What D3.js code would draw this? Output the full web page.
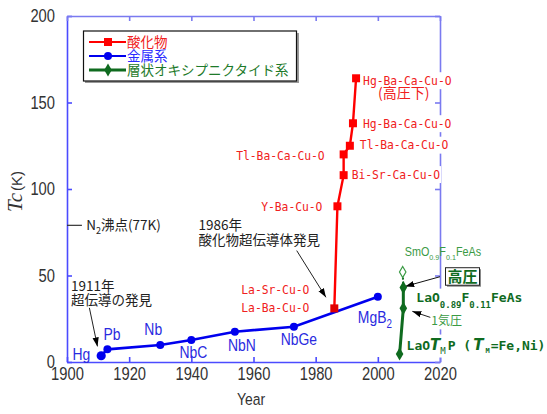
<!DOCTYPE html>
<html><head><meta charset="utf-8">
<script src="https://cdn.jsdelivr.net/npm/d3@7"></script>
<style>
body{margin:0;background:#fff;}
svg{display:block;}
</style></head>
<body><svg id="c" width="547" height="414"></svg>
<script>
// ---- data ----
const oxideNames = ["La-Ba-Cu-O","Y-Ba-Cu-O","Bi-Sr-Ca-Cu-O","Tl-Ba-Ca-Cu-O","Tl-Ba-Ca-Cu-O","Hg-Ba-Ca-Cu-O","Hg-Ba-Ca-Cu-O"];
const oxideYears = [1986, 1987, 1989, 1989, 1991, 1992, 1993];
const oxideTc    = [31, 90, 108, 120, 125, 138, 164];

const metalNames = ["Hg","Pb","Nb","NbC","NbN","NbGe","MgB2"];
const metalYears = [1911, 1913, 1930, 1940, 1954, 1973, 2000];
const metalTc    = [3.6, 7.3, 9.8, 12.7, 17.5, 20.4, 37.7];

const pnicNames = ["LaOTMP","LaO0.89F0.11FeAs (1気圧)","LaO0.89F0.11FeAs (高圧)"];
const pnicYears = [2007, 2008.2, 2008.2];
const pnicTc    = [4.6, 31, 43];
const smYear = [2008];
const smTc   = [52];

const xTicks = [1900, 1920, 1940, 1960, 1980, 2000, 2020];
const yTicks = [0, 50, 100, 150, 200];
const n2Tc = 79; // drawn position of the N2 boiling point mark

const legendNames = ["酸化物","金属系","層状オキシプニクタイド系"];

// ---- setup ----
const svg = d3.select("#c");
const x = d3.scaleLinear().domain([1900, 2020]).range([67, 440]);
const y = d3.scaleLinear().domain([0, 200]).range([362, 16]);

const RED = "#ff0000", RED_T = "#f02020";
const BLUE = "#0000ee", BLUE_T = "#2a2ae0";
const GREEN = "#0f6b1f", GREEN_L = "#3a9a44";
const AX1 = "#4b4bff", AX2 = "#7a7af0";
const SANS = "'Liberation Sans',Arial,sans-serif";
const JP = "'Noto Sans CJK JP',sans-serif";
const MONO = "'DejaVu Sans Mono','Liberation Mono',monospace";
const NX = 0.82; // horizontal condensing of the narrow face

const defs = svg.append("defs");
defs.append("marker").attr("id","arr").attr("viewBox","0 0 10 10")
  .attr("refX",10).attr("refY",5).attr("markerWidth",9).attr("markerHeight",9)
  .attr("markerUnits","userSpaceOnUse").attr("orient","auto")
  .append("path").attr("d","M0,1.5 L10,5 L0,8.5 Z").attr("fill","#000");

// ---- axes ----
const gAx = svg.append("g");
function styleAxis(g, col){
  g.selectAll(".domain").attr("stroke", col).attr("stroke-width", 1.6);
  g.selectAll(".tick line").attr("stroke", col).attr("stroke-width", 1.6);
}
const axB = gAx.append("g").attr("transform",`translate(0,${y(0)})`)
  .call(d3.axisBottom(x).tickValues(xTicks).tickFormat(d3.format("d")).tickSize(-5).tickSizeOuter(0).tickPadding(4));
styleAxis(axB, AX1);
const axL = gAx.append("g").attr("transform",`translate(${x(1900)},0)`)
  .call(d3.axisLeft(y).tickValues(yTicks).tickSize(-5).tickSizeOuter(0).tickPadding(12/NX));
styleAxis(axL, AX1);
const axT = gAx.append("g").attr("transform",`translate(0,${y(200)})`)
  .call(d3.axisTop(x).tickValues(xTicks).tickFormat("").tickSize(-5).tickSizeOuter(0));
styleAxis(axT, AX2);
const axR = gAx.append("g").attr("transform",`translate(${x(2020)},0)`)
  .call(d3.axisRight(y).tickValues(yTicks).tickFormat("").tickSize(-5).tickSizeOuter(0));
styleAxis(axR, AX2);
[axB, axL].forEach(g => g.selectAll(".tick text")
  .attr("font-family", SANS).attr("font-size", 18).attr("fill", "#333")
  .attr("transform", `scale(${NX},1)`));
axB.selectAll(".tick text").attr("dy","0.78em");

// layers: label backgrounds (cover axes), labels, then series on top
const bgLayer = svg.append("g");
const labelLayer = svg.append("g");
const seriesLayer = svg.append("g");

function ntext(parent, px, py, sx){
  return parent.append("g").attr("transform", `translate(${px},${py}) scale(${sx},1)`).append("text");
}
const svgBox = svg.node().getBoundingClientRect();
function bgBehind(node, pad){
  const b = node.getBoundingClientRect();
  bgLayer.append("rect")
    .attr("x", b.left - svgBox.left - pad).attr("y", b.top - svgBox.top - pad)
    .attr("width", b.width + 2*pad).attr("height", b.height + 2*pad)
    .attr("fill","#fff");
}

// axis titles
ntext(svg, 251, 405, NX).attr("text-anchor","middle")
  .attr("font-family", SANS).attr("font-size", 17).attr("fill","#333").text("Year");
const yl = svg.append("text").attr("transform","translate(22,212) rotate(-90)")
  .attr("fill","#333");
yl.append("tspan").attr("font-family","'Liberation Serif',serif").attr("font-style","italic")
  .attr("font-size", 21).text("Tc");
yl.append("tspan").attr("font-family", SANS).attr("font-size", 15).attr("dx", 2).text("(K)");

// ---- N2 line ----
svg.append("line").attr("x1", x(1900)).attr("x2", x(1904.8)).attr("y1", y(n2Tc)).attr("y2", y(n2Tc))
  .attr("stroke","#333").attr("stroke-width",1.2);
const n2t = svg.append("text").attr("x", x(1906.2)).attr("y", y(n2Tc)).attr("dy","0.35em")
  .attr("font-family", JP).attr("font-size", 13.5).attr("fill","#222");
n2t.append("tspan").text("N");
n2t.append("tspan").attr("font-size", 9).attr("dy", 4).text("2");
n2t.append("tspan").attr("dy", -4).text("沸点(77K)");

// ---- series lines ----
const line = d3.line().x(d => x(d[0])).y(d => y(d[1]));
const metal = metalYears.map((v,i) => [v, metalTc[i]]);
const oxide = oxideYears.map((v,i) => [v, oxideTc[i]]);
const pnic = pnicYears.map((v,i) => [v, pnicTc[i]]);

seriesLayer.append("path").attr("d", line(metal)).attr("fill","none").attr("stroke", BLUE).attr("stroke-width", 2.6);
seriesLayer.selectAll(".mc").data(metal).enter().append("circle")
  .attr("cx", d => x(d[0])).attr("cy", d => y(d[1])).attr("r", (d,i) => i===0 ? 4.6 : 4).attr("fill", BLUE);

seriesLayer.append("path").attr("d", line(oxide)).attr("fill","none").attr("stroke", RED).attr("stroke-width", 2.4);
seriesLayer.selectAll(".oc").data(oxide).enter().append("rect")
  .attr("x", d => x(d[0]) - 4).attr("y", d => y(d[1]) - 4).attr("width", 8).attr("height", 8)
  .attr("fill", d => d[1] < 40 ? "#e00000" : RED);

seriesLayer.append("path").attr("d", line([pnic[2], [smYear[0], smTc[0]]])).attr("fill","none")
  .attr("stroke", GREEN).attr("stroke-width", 2).attr("stroke-dasharray","2,2");
seriesLayer.append("path").attr("d", line(pnic)).attr("fill","none").attr("stroke", GREEN).attr("stroke-width", 3);
const diamond = d3.symbol().type(d3.symbolDiamond).size(50);
seriesLayer.selectAll(".pc").data(pnic).enter().append("path").attr("d", diamond)
  .attr("transform", d => `translate(${x(d[0])},${y(d[1])})`).attr("fill", GREEN);
seriesLayer.append("path").attr("d", d3.symbol().type(d3.symbolDiamond).size(36))
  .attr("transform", `translate(${x(smYear[0])},${y(smTc[0])})`)
  .attr("fill","#fff").attr("stroke", GREEN_L).attr("stroke-width",1.2);

// ---- red labels ----
function px(i){ return x(oxideYears[i]); }
function py(i){ return y(oxideTc[i]); }
const redSpecs = [
  {t: oxideNames[6], x: px(6)+7,  y: py(6)+2,  a:"start", bg:true},
  {t: "(高圧下)",     x: px(6)+22, y: py(6)+15, a:"start", bg:true, jp:true},
  {t: oxideNames[5], x: px(5)+10, y: py(5),    a:"start", bg:true},
  {t: oxideNames[4], x: px(4)+10, y: py(4)-1,  a:"start", bg:true},
  {t: oxideNames[3], x: px(3)-19, y: py(3)+1,  a:"end"},
  {t: oxideNames[2], x: px(2)+8,  y: py(2)-1,  a:"start", bg:true},
  {t: oxideNames[1], x: px(1)-15, y: py(1),    a:"end"},
  {t: "La-Sr-Cu-O",  x: px(0)-25, y: py(0)-19, a:"end"},
  {t: oxideNames[0], x: px(0)-25, y: py(0)-1,  a:"end"},
];
redSpecs.forEach(s => {
  const t = ntext(labelLayer, s.x, s.y, s.jp ? 1 : 0.87).attr("dy","0.36em")
    .attr("text-anchor", s.a).attr("fill", RED_T)
    .attr("font-family", s.jp ? JP : MONO).attr("font-size", s.jp ? 14 : 13).text(s.t);
  if (s.bg) bgBehind(t.node(), 1);
});

// ---- blue labels ----
function mx(i){ return x(metalYears[i]); }
function my(i){ return y(metalTc[i]); }
const blueSpecs = [
  {i:0, dx:-11, dy:-2, a:"end"},
  {i:1, dx:-4,  dy:-16, a:"start"},
  {i:2, dx:-7,  dy:-16, a:"middle"},
  {i:3, dx:2,   dy:12, a:"middle"},
  {i:4, dx:7,   dy:13, a:"middle"},
  {i:5, dx:5,   dy:12, a:"middle"},
];
blueSpecs.forEach(s => {
  ntext(labelLayer, mx(s.i)+s.dx, my(s.i)+s.dy, NX).attr("dy","0.36em")
    .attr("text-anchor", s.a).attr("fill", BLUE_T).attr("font-family", SANS).attr("font-size", 17)
    .text(metalNames[s.i]);
});
const mg = ntext(labelLayer, mx(6)-20, my(6)+20, NX).attr("dy","0.36em")
  .attr("fill", BLUE_T).attr("font-family", SANS).attr("font-size", 17);
mg.append("tspan").text("MgB");
mg.append("tspan").attr("font-size", 12).attr("dy", 5).text("2");

// ---- black annotations ----
const ann = labelLayer.append("g").attr("font-family", JP).attr("font-size", 13.5).attr("fill","#222");
ann.append("text").attr("x", x(1942.3)).attr("y", y(79)).attr("dy","0.36em").text("1986年");
ann.append("text").attr("x", x(1942.3)).attr("y", y(70.5)).attr("dy","0.36em").text("酸化物超伝導体発見");
ann.append("text").attr("x", x(1901.3)).attr("y", y(44)).attr("dy","0.36em").text("1911年");
ann.append("text").attr("x", x(1901.3)).attr("y", y(36)).attr("dy","0.36em").text("超伝導の発見");
const arrows = [
  [x(1973.9), y(64.4), x(1983.3), y(37.4), "#222"],
  [x(1907.2), y(31.3), x(1909.8), y(9),   "#222"],
  [x(2020),   y(49.3), x(2008.8), y(43.7), "#111"],
  [x(pnicYears[1])+27, y(pnicTc[1])+9, x(pnicYears[1])+9, y(pnicTc[1])+3, "#222"]
];
arrows.forEach(a => {
  labelLayer.append("line").attr("x1", a[0]).attr("y1", a[1]).attr("x2", a[2]).attr("y2", a[3])
    .attr("stroke", a[4]).attr("stroke-width", 1).attr("marker-end","url(#arr)");
});

// ---- green labels ----
function gx(i){ return x(pnicYears[i]); }
function gy(i){ return y(pnicTc[i]); }
const sm = ntext(labelLayer, x(smYear[0])+2, y(smTc[0])-16, 0.9)
  .attr("fill", GREEN_L).attr("font-family", SANS).attr("font-size", 12);
sm.append("tspan").text("SmO");
sm.append("tspan").attr("font-size", 8).attr("dy", 4).text("0.9");
sm.append("tspan").attr("dy", -4).text("F");
sm.append("tspan").attr("font-size", 8).attr("dy", 4).text("0.1");
sm.append("tspan").attr("dy", -4).text("FeAs");

const lf = labelLayer.append("text").attr("x", gx(2)+13).attr("y", gy(2)+14)
  .attr("fill", GREEN).attr("font-family", MONO).attr("font-weight","bold").attr("font-size", 13);
lf.append("tspan").text("LaO");
lf.append("tspan").attr("font-size", 9).attr("dy", 6).text("0.89");
lf.append("tspan").attr("dy", -6).text("F");
lf.append("tspan").attr("font-size", 9).attr("dy", 6).text("0.11");
lf.append("tspan").attr("dy", -6).text("FeAs");
bgBehind(lf.node(), 1);

const atm = labelLayer.append("text").attr("x", gx(1)+28).attr("y", gy(1)+17)
  .attr("fill", GREEN_L).attr("font-family", JP).attr("font-size", 12).text("1気圧");
bgBehind(atm.node(), 1);

const lp = labelLayer.append("text").attr("x", gx(0)+7).attr("y", gy(0)-4)
  .attr("fill", GREEN).attr("font-family", MONO).attr("font-weight","bold").attr("font-size", 13);
lp.append("tspan").text("LaO");
lp.append("tspan").attr("font-family","'DejaVu Sans',sans-serif").attr("font-style","italic").attr("font-size", 15).text("T");
lp.append("tspan").attr("font-size", 9).attr("font-weight","normal").attr("dy", 4).text("M");
lp.append("tspan").attr("dy", -4).attr("dx", 2).text("P (");
lp.append("tspan").attr("font-family","'DejaVu Sans',sans-serif").attr("font-style","italic").attr("font-size", 15).attr("dx", 2).text("T");
lp.append("tspan").attr("font-size", 7).attr("dy", 3).attr("dx", 2).text("M");
lp.append("tspan").attr("dy", -3).attr("dx", 1).text("=Fe,Ni)");
bgBehind(lp.node(), 1.5);

// 高圧 box
const bx = x(2020) + 5.5, byTop = y(54.5);
labelLayer.append("rect").attr("x", bx+1.5).attr("y", byTop+1.5).attr("width", 34).attr("height", 17.5).attr("fill","#888");
labelLayer.append("rect").attr("x", bx).attr("y", byTop).attr("width", 34).attr("height", 17.5)
  .attr("fill","#fff").attr("stroke","#222").attr("stroke-width",1);
labelLayer.append("text").attr("x", bx+17).attr("y", byTop+9).attr("dy","0.36em").attr("text-anchor","middle")
  .attr("fill", GREEN).attr("font-family", JP).attr("font-weight","bold").attr("font-size", 15).text("高圧");

// ---- legend ----
const lg = svg.append("g");
lg.append("rect").attr("x", 85).attr("y", 33).attr("width", 214).attr("height", 50).attr("fill","#999");
lg.append("rect").attr("x", 83.5).attr("y", 31).attr("width", 213).attr("height", 50)
  .attr("fill","#fff").attr("stroke","#111").attr("stroke-width",1.2);
const lgCols = [RED, BLUE, GREEN];
const lgTextCols = [RED_T, "#2a2aff", "#1e7a2a"];
legendNames.forEach((n, i) => {
  const yy = 42 + i*14;
  lg.append("line").attr("x1", 89).attr("x2", 126).attr("y1", yy).attr("y2", yy)
    .attr("stroke", lgCols[i]).attr("stroke-width", i===2 ? 3 : 2.2);
  if (i===0) lg.append("rect").attr("x", 104).attr("y", yy-4).attr("width", 8).attr("height", 8).attr("fill", RED);
  if (i===1) lg.append("circle").attr("cx", 108).attr("cy", yy).attr("r", 4).attr("fill", BLUE);
  if (i===2) lg.append("path").attr("d", diamond).attr("transform", `translate(108,${yy})`).attr("fill", GREEN);
  lg.append("text").attr("x", 127).attr("y", yy).attr("dy","0.36em").attr("fill", lgTextCols[i])
    .attr("font-family", JP).attr("font-size", 13.5).text(n);
});
</script></body></html>
